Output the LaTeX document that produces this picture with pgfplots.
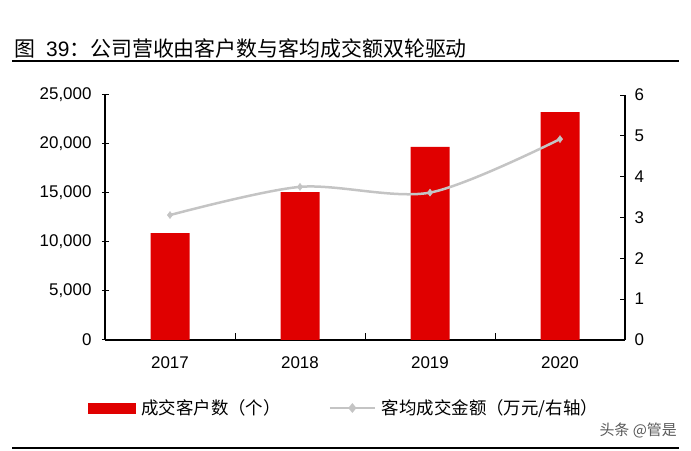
\documentclass[border=0pt]{standalone}
\usepackage{pgfplots}
\pgfplotsset{compat=1.18}
\usepackage{fontspec}
\setmainfont{Liberation Sans}
\newfontfamily\cjk{Noto Sans CJK SC}
\definecolor{barred}{RGB}{224,0,0}
\definecolor{linegray}{RGB}{196,196,196}
\definecolor{wm}{RGB}{90,90,90}
\begin{document}
\begin{tikzpicture}
\path[use as bounding box] (0bp,0bp) rectangle (691bp,451bp);
\node[anchor=base west, inner sep=0pt, font=\fontsize{21}{24}\selectfont] at (14bp,394.3bp) {{\cjk 图}\hspace{11bp}39{\cjk ：公司营收由客户数与客均成交额双轮驱动}};
\draw[line width=2bp] (12bp,390bp) -- (679bp,390bp);
\draw[line width=2bp] (12bp,3bp) -- (679bp,3bp);
\node[anchor=east, inner sep=0pt, text=wm, font=\cjk\fontsize{15}{18}\selectfont] at (677bp,21bp) {头条 @管是};

\begin{axis}[
  at={(105bp,111bp)}, anchor=south west, scale only axis,
  width=520bp, height=245bp,
  xmin=-0.5, xmax=3.5, ymin=0, ymax=25000,
  axis x line*=bottom, axis y line*=left,
  axis line style={line width=1.2bp, black},
  xtick={-0.5,0.5,1.5,2.5,3.5},
  x tick label as interval,
  xticklabels={2017,2018,2019,2020},
  ytick={0,5000,10000,15000,20000,25000},
  tick align=inside, major tick length=7bp,
  tick style={line width=1bp, black},
  y tick style={xshift=-3bp},
  tick label style={font=\fontsize{17}{20}\selectfont},
  xticklabel style={yshift=-13bp},
  yticklabel style={xshift=-10bp},
  /pgf/number format/assume math mode=true,
  /pgf/number format/1000 sep={,},
  scaled y ticks=false,
  clip=false,
]
\addplot[ybar, bar width=39bp, fill=barred, draw=none, bar shift=0pt]
  coordinates {(0,10900) (1,15100) (2,19700) (3,23250)};
\end{axis}

\begin{axis}[
  at={(105bp,111bp)}, anchor=south west, scale only axis,
  width=520bp, height=245bp,
  xmin=-0.5, xmax=3.5, ymin=0, ymax=6,
  axis x line=none, axis y line*=right,
  axis line style={line width=1.2bp, black},
  ytick={0,1,2,3,4,5,6},
  tick align=inside, major tick length=5bp,
  tick style={line width=1bp, black},
  tick label style={font=\fontsize{17}{20}\selectfont},
  yticklabel style={xshift=6bp},
  /pgf/number format/assume math mode=true,
  clip=false,
  legend style={at={(-0.0327,-0.2776)}, anchor=west, draw=none, fill=none,
    inner sep=0pt, outer sep=0pt,
    font=\cjk\fontsize{17.5}{21}\selectfont,
    /tikz/every odd column/.append style={column sep=4bp},
    /tikz/every even column/.append style={column sep=46bp}},
  legend columns=2,
]
\addlegendimage{legend image code/.code={\fill[barred] (0bp,-5bp) rectangle (47bp,5bp);}}
\addlegendentry{成交客户数（个）}
\addplot[smooth, color=linegray, line width=2.5bp, mark=diamond*, mark size=3.5bp,
  mark options={fill=linegray, draw=linegray, line width=0.5bp},
  legend image code/.code={\draw[linegray, line width=2bp] (0bp,0bp) -- (45bp,0bp);
    \fill[linegray] (22.5bp,3bp) -- (25bp,0bp) -- (22.5bp,-3bp) -- (20bp,0bp) -- cycle;}]
  coordinates {(0,3.06) (1,3.75) (2,3.61) (3,4.92)};
\addlegendentry{客均成交金额（万元/右轴）}
\end{axis}
\end{tikzpicture}
\end{document}
